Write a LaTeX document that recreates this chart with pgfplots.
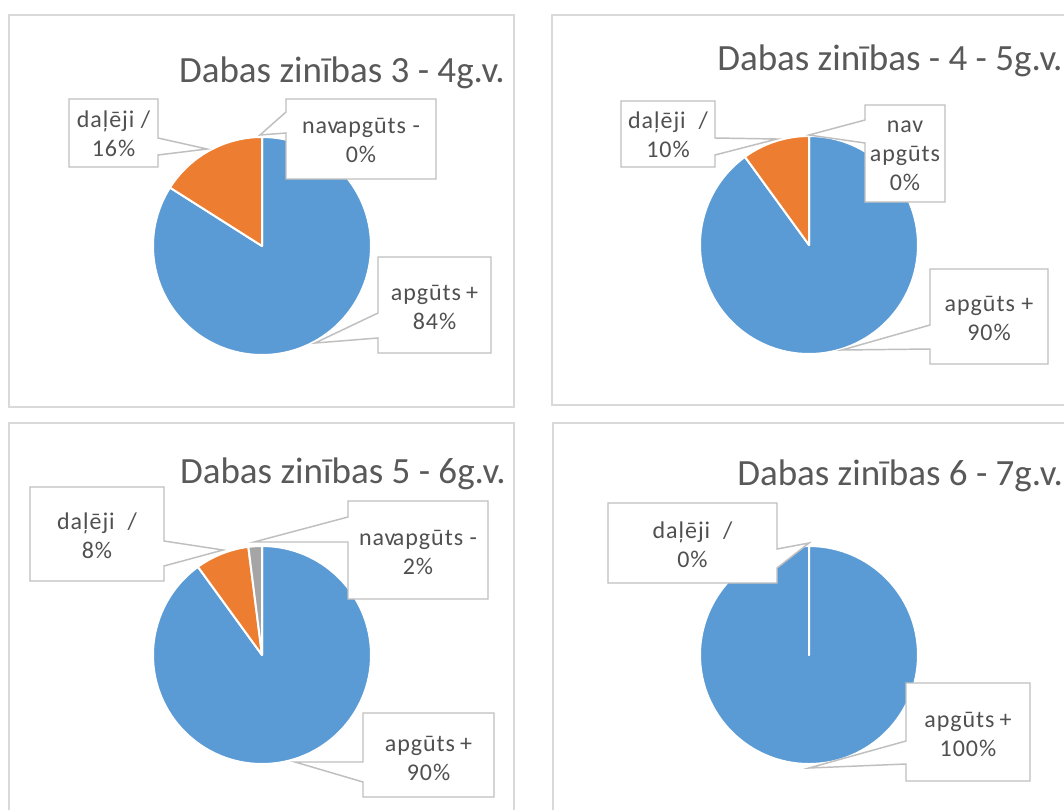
\documentclass[border=0pt]{standalone}
\usepackage{fontspec}
\setmainfont{Carlito}
\newfontfamily\lblfont[LetterSpace=4]{Carlito}
\usepackage{pgfplots}
\usepackage{pgfplotstable}
\pgfplotsset{compat=1.18}
\definecolor{sBlue}{HTML}{5B9BD5}
\definecolor{sOrange}{HTML}{ED7D31}
\definecolor{sGray}{HTML}{A5A5A5}
\definecolor{titleGray}{HTML}{595959}
\definecolor{lblGray}{HTML}{505050}
\definecolor{boxLine}{HTML}{BFBFBF}
\definecolor{panelLine}{HTML}{D9D9D9}

% shares per chart: apgūts +, daļēji /, nav apgūts -
\pgfplotstableread{
cat value
apguts 84
daleji 16
nav 0
}\tA
\pgfplotstableread{
cat value
apguts 90
daleji 10
nav 0
}\tB
\pgfplotstableread{
cat value
apguts 90
daleji 8
nav 2
}\tC
\pgfplotstableread{
cat value
apguts 100
daleji 0
}\tD

\newcommand\pieR{81.75pt}
% one wedge, clockwise from the running start angle
\newcommand\slice[3]{%
  \pgfplotstablegetelem{#2}{value}\of#1%
  \pgfmathsetmacro\endang{\startang-3.6*\pgfplotsretval}%
  \edef\tmp{\noexpand\filldraw[fill=#3, draw=white, line width=1.5pt, line join=round]
    (axis cs:0,0) -- (axis cs:{cos(\startang)},{sin(\startang)})
    arc[start angle=\startang, end angle=\endang, radius=\pieR] -- cycle;}%
  \tmp
  \xdef\startang{\endang}}

\pgfplotsset{pie/.style={anchor=center, x=\pieR, y=\pieR,
  xmin=-1, xmax=1, ymin=-1, ymax=1, hide axis, clip=false}}

\tikzset{callout/.style={fill=white, draw=boxLine, line width=1.1pt, line join=miter},
  lbl/.style={align=center, inner sep=0pt, text=lblGray,
    font=\lblfont\fontsize{18}{21.75}\selectfont},
  ttl/.style={inner sep=0pt, text=titleGray, font=\fontsize{27.75}{33}\selectfont}}

\begin{document}
\begin{tikzpicture}[x=0.75pt, y=-0.75pt]
\useasboundingbox (0,0) rectangle (1064,810);
\clip (0,0) rectangle (1064,810);
\fill[white] (0,0) rectangle (1064,810);

% panel frames
\draw[panelLine, line width=1.3pt] (9,15) rectangle (514,407);
\draw[panelLine, line width=1.3pt] (552,15) rectangle (1090,405);
\draw[panelLine, line width=1.3pt] (9,423) rectangle (514,840);
\draw[panelLine, line width=1.3pt] (553,423) rectangle (1090,840);

\coordinate (c1) at (262,246);
\coordinate (c2) at (809,245);
\coordinate (c3) at (262,655);
\coordinate (c4) at (809,655);

\begin{axis}[pie, at={(c1)}]
  \gdef\startang{90}
  \slice{\tA}{0}{sBlue}
  \slice{\tA}{1}{sOrange}
  \slice{\tA}{2}{sGray}
\end{axis}
\begin{axis}[pie, at={(c2)}]
  \gdef\startang{90}
  \slice{\tB}{0}{sBlue}
  \slice{\tB}{1}{sOrange}
  \slice{\tB}{2}{sGray}
\end{axis}
\begin{axis}[pie, at={(c3)}]
  \gdef\startang{90}
  \slice{\tC}{0}{sBlue}
  \slice{\tC}{1}{sOrange}
  \slice{\tC}{2}{sGray}
\end{axis}
\begin{axis}[pie, at={(c4)}]
  \gdef\startang{90}
  \slice{\tD}{0}{sBlue}
  \slice{\tD}{1}{sOrange}
\end{axis}

% titles
\node[ttl, anchor=base east] at (505,82) {Dabas zinības 3 - 4g.v.};
\node[ttl, anchor=base west] at (717,70) {Dabas zinības - 4 - 5g.v.};
\node[ttl, anchor=base east] at (506,483) {Dabas zinības 5 - 6g.v.};
\node[ttl, anchor=base west] at (737,485) {Dabas zinības 6 - 7g.v.};

% callouts, chart 1
\draw[callout] (69,99) -- (158,99) -- (158,138) -- (207,149) -- (158,155) -- (158,167) -- (69,167) -- cycle;
\node[lbl] at (113.5,134) {daļēji /\\16\%};
\draw[callout] (286,99) -- (436,99) -- (436,179) -- (286,179) -- (286,133) -- (260,135) -- (286,112) -- cycle;
\node[lbl] at (361,140) {nav\kern-2pt apgūts -\\0\%};
\draw[callout] (378,257) -- (491,257) -- (491,353) -- (378,353) -- (378,338) -- (315,343) -- (378,313) -- cycle;
\node[lbl] at (434.5,307) {apgūts\kern-1pt\ +\\84\%};

% callouts, chart 2
\draw[callout] (621,101) -- (715,101) -- (715,138) -- (777,139) -- (715,155) -- (715,167) -- (621,167) -- cycle;
\node[lbl] at (668,135) {daļēji~~/\\10\%};
\draw[callout] (865,105) -- (945,105) -- (945,202) -- (865,202) -- (865,143) -- (809,135) -- (865,120) -- cycle;
\node[lbl] at (905,156) {nav\\apgūts\\0\%};
\draw[callout] (930,269) -- (1048,269) -- (1048,364) -- (930,364) -- (930,349) -- (842,350) -- (930,325) -- cycle;
\node[lbl] at (989,318) {apgūts +\\90\%};

% callouts, chart 3
\draw[callout] (30,487) -- (164,487) -- (164,541) -- (223,550) -- (164,566) -- (164,581) -- (30,581) -- cycle;
\node[lbl] at (97,536) {daļēji~~/\\8\%};
\draw[callout] (348,501) -- (488,501) -- (488,599) -- (348,599) -- (348,542) -- (254,542) -- (348,517) -- cycle;
\node[lbl] at (418,552) {nav\kern-2pt apgūts -\\2\%};
\draw[callout] (363,713) -- (494,713) -- (494,797) -- (363,797) -- (363,782) -- (295,762) -- (363,762) -- cycle;
\node[lbl] at (428.5,758) {apgūts\kern-1pt\ +\\90\%};

% callouts, chart 4
\draw[callout] (608,503) -- (777,503) -- (777,549) -- (809,543) -- (777,568) -- (777,583) -- (608,583) -- cycle;
\node[lbl] at (692.5,545) {daļēji~~/\\0\%};
\draw[callout] (906,683) -- (1030,683) -- (1030,781) -- (906,781) -- (906,764) -- (809,768) -- (906,741) -- cycle;
\node[lbl] at (968,734) {apgūts\kern-1pt\ +\\100\%};
\end{tikzpicture}
\end{document}
